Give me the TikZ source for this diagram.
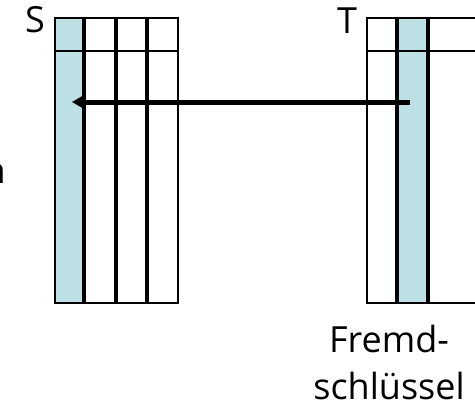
\documentclass[tikz,border=0pt]{standalone}
\usepackage{fontspec}
\setmainfont{Open Sans}
\usepackage{tikz}
\usetikzlibrary{arrows.meta}

\definecolor{keyblue}{RGB}{188,224,227}

\begin{document}
\begin{tikzpicture}[x=0.5pt,y=-0.5pt,>={Stealth[length=7pt,width=8pt,inset=1.5pt]},
  key col/.style={fill=keyblue},
  frame line/.style={line width=1.4pt},
  col line/.style={line width=2pt},
  label/.style={font=\fontsize{18}{23.5}\selectfont, inner sep=0pt}]

  \useasboundingbox (0,0) rectangle (475,407);
  \clip (0,0) rectangle (475,407);

  % table S, key column on the left
  \fill[key col] (55,18) rectangle (84,303);
  \draw[frame line] (55,18) rectangle (178,303);
  \draw[frame line] (55,51) -- (178,51);
  \foreach \x in {84,116,147}
    \draw[col line] (\x,18) -- (\x,303);

  % table T, runs on past the right edge
  \fill[key col] (397,18) rectangle (428,303);
  \draw[frame line] (367,18) rectangle (500,303);
  \draw[frame line] (367,51) -- (500,51);
  \foreach \x in {397,428}
    \draw[col line] (\x,18) -- (\x,303);

  \node[label] (s) at (35,20) {S};
  \node[label] (t) at (347,21) {T};
  \node[label, anchor=base east] (rest) at (6,183) {n};
  \node[label, align=center, anchor=north] (fk label) at (389,325) {Fremd-\\schlüssel};

  \coordinate (fk) at (410,102);
  \coordinate (pk) at (72,102);
  \draw[->, line width=2.5pt] (fk) -- (pk);
\end{tikzpicture}
\end{document}
